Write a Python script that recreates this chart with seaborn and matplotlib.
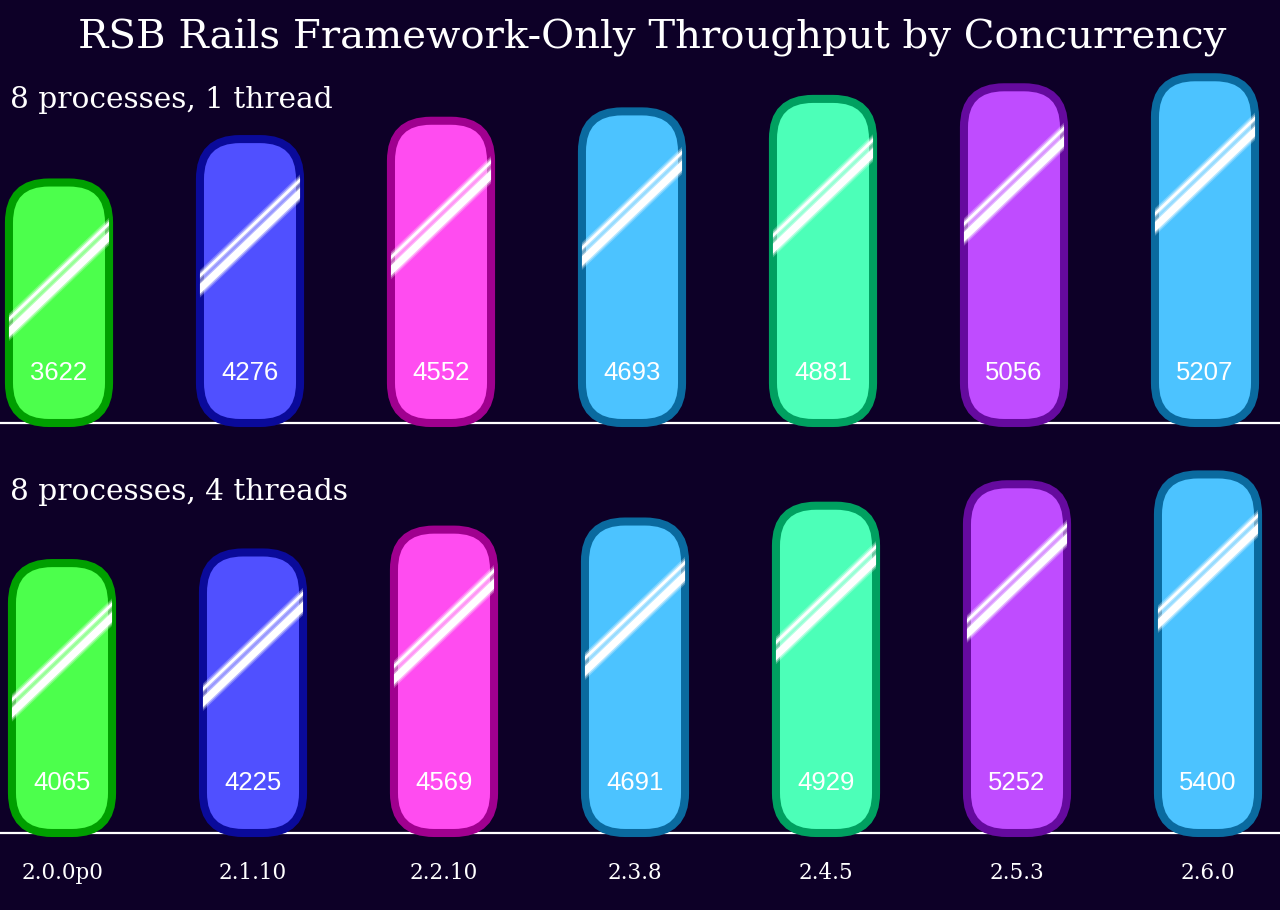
import numpy as np
import pandas as pd
import seaborn as sns
import matplotlib.pyplot as plt
from matplotlib.patches import FancyBboxPatch

# Data
versions = ["2.0.0p0", "2.1.10", "2.2.10", "2.3.8", "2.4.5", "2.5.3", "2.6.0"]
one_thread = [3622, 4276, 4552, 4693, 4881, 5056, 5207]
four_threads = [4065, 4225, 4569, 4691, 4929, 5252, 5400]
fills = ["#4cff4c", "#5050ff", "#ff4cf0", "#4cc3ff", "#4cffb8", "#bf4cff", "#4cc3ff"]
edges = ["#009f00", "#0a0a9a", "#a0008f", "#0a6a9f", "#00a060", "#650a9e", "#0a6a9f"]

bg = "#0d0027"
W, H = 1280, 910
pitch = 191.0          # pixels between bar centres
py = 0.0664            # pixels per request/s

sns.set_theme(style="dark", rc={"figure.facecolor": bg, "axes.facecolor": bg})
plt.rcParams["font.family"] = ["DejaVu Serif"]

fig = plt.figure(figsize=(12.8, 9.1), dpi=100)


def panel(values, base_px, top_px, first_px, show_labels):
    # base_px / top_px measured from the top of the image
    ax = fig.add_axes([0, 1 - base_px / H, 1, (base_px - top_px) / H])
    ax.patch.set_alpha(0)
    df = pd.DataFrame({"version": versions, "rps": values})
    sns.barplot(data=df, x="version", y="rps", hue="version", palette=fills,
                legend=False, ax=ax, width=0.524)
    ax.set_xlim(-first_px / pitch, (W - first_px) / pitch)
    ax.set_ylim(0, (base_px - top_px) / py)
    for s in ax.spines.values():
        s.set_visible(False)
    ax.axhline(0, color="white", lw=1.6, zorder=1, clip_on=False)
    ax.set_ylabel("")
    ax.set_xlabel("")
    ax.set_yticks([])

    asp = pitch / py
    bars = sorted(ax.patches, key=lambda p: p.get_x())
    for i, p in enumerate(bars):
        x, w, h = p.get_x(), p.get_width(), p.get_height()
        p.remove()
        r = 40 / pitch
        box = FancyBboxPatch((x, 0), w, h,
                             boxstyle=f"round,pad=0,rounding_size={r}",
                             mutation_aspect=asp, facecolor=fills[i],
                             edgecolor=edges[i], lw=5.8, zorder=3, clip_on=False)
        ax.add_patch(box)

        # glossy diagonal highlights
        slope = (88 / py) / (92 / pitch)
        xr = x + w
        yr = h - 54 / py
        xs = np.array([x - 0.05, xr + 0.05])
        for off, lw in [(0, 5.2), (13, 2.0)]:
            ys = yr + off / py + slope * (xs - xr)
            for extra, alpha in [(4.0, 0.25), (2.0, 0.45), (0, 1.0)]:
                ln, = ax.plot(xs, ys, color="white", lw=lw + extra,
                              alpha=alpha, zorder=4, solid_capstyle="butt")
                ln.set_clip_path(box)

        ax.annotate(f"{values[i]}", (x + w / 2, 0), xytext=(0, 50 * 0.72),
                    textcoords="offset points", ha="center", va="center",
                    color="white", fontsize=18.5, family="Liberation Sans",
                    zorder=5)

    if show_labels:
        ax.set_xticks(range(len(versions)))
        ax.set_xticklabels(versions, color="white", fontsize=15.5)
        ax.tick_params(axis="x", length=0, pad=21)
    else:
        ax.set_xticks([])
    return ax


panel(one_thread, 423, 60, 59, False)
panel(four_threads, 833, 450, 62, True)

fig.text(652 / W, 1 - 38 / H, "RSB Rails Framework-Only Throughput by Concurrency",
         ha="center", va="center", color="white", fontsize=29)
fig.text(10 / W, 1 - 100 / H, "8 processes, 1 thread",
         ha="left", va="center", color="white", fontsize=21.3)
fig.text(10 / W, 1 - 492 / H, "8 processes, 4 threads",
         ha="left", va="center", color="white", fontsize=21.3)

fig.savefig("out.png", dpi=100, facecolor=bg)
